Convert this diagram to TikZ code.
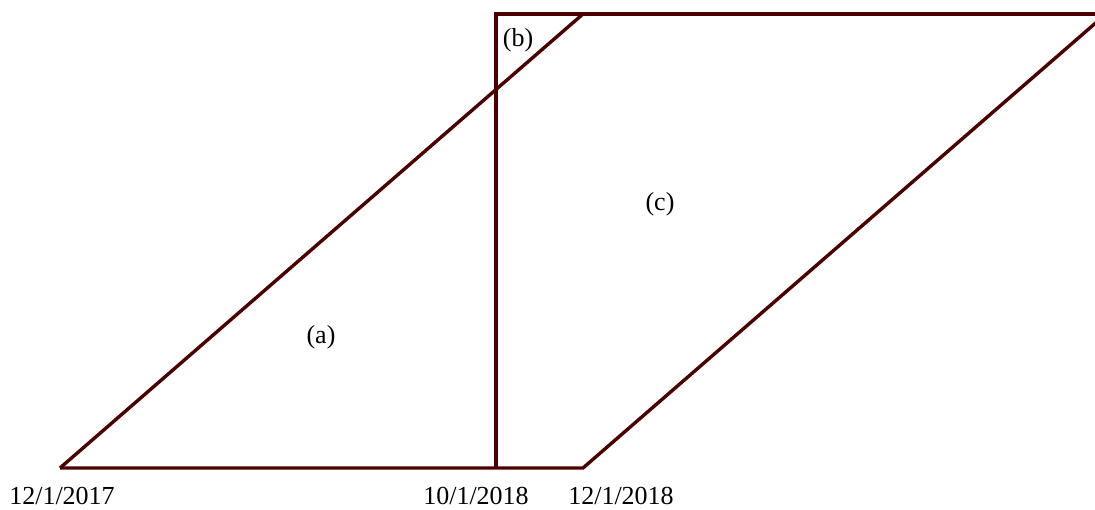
\documentclass[tikz,border=0pt]{standalone}
\usepackage{fontspec}
\setmainfont{Liberation Serif}
\usetikzlibrary{positioning}
\definecolor{maroonline}{RGB}{75,0,0}

\begin{document}
\begin{tikzpicture}[
  x=1pt,y=1pt,
  edge/.style={draw=maroonline,line width=3.4pt},
  datelbl/.style={font=\fontsize{26}{30}\selectfont,inner sep=0pt},
  arealbl/.style={font=\fontsize{26}{30}\selectfont,inner sep=0pt}
]
\useasboundingbox (0,0) rectangle (1095,510);
% corners of the two regions
\coordinate (start) at (60,42);
\coordinate (dec) at (583,42);
\coordinate (oct) at (496,42);
\coordinate (octtop) at (496,496);
\coordinate (lefttop) at (583,496);
\coordinate (righttop) at (1106,496);
\draw[edge] (start) -- (dec) -- (righttop);
\draw[edge] (start) -- (lefttop);
\draw[edge] (oct) -- (octtop) -- (righttop);
% axis dates
\node[datelbl] (d2017) at (62,14) {12/1/2017};
\node[datelbl] (d2018oct) at (476,14) {10/1/2018};
\node[datelbl] (d2018dec) at (621,14) {12/1/2018};
% region labels
\node[arealbl] (ra) at (321,173) {(a)};
\node[arealbl] (rb) at (518,470) {(b)};
\node[arealbl] (rc) at (660,306) {(c)};
\end{tikzpicture}
\end{document}
